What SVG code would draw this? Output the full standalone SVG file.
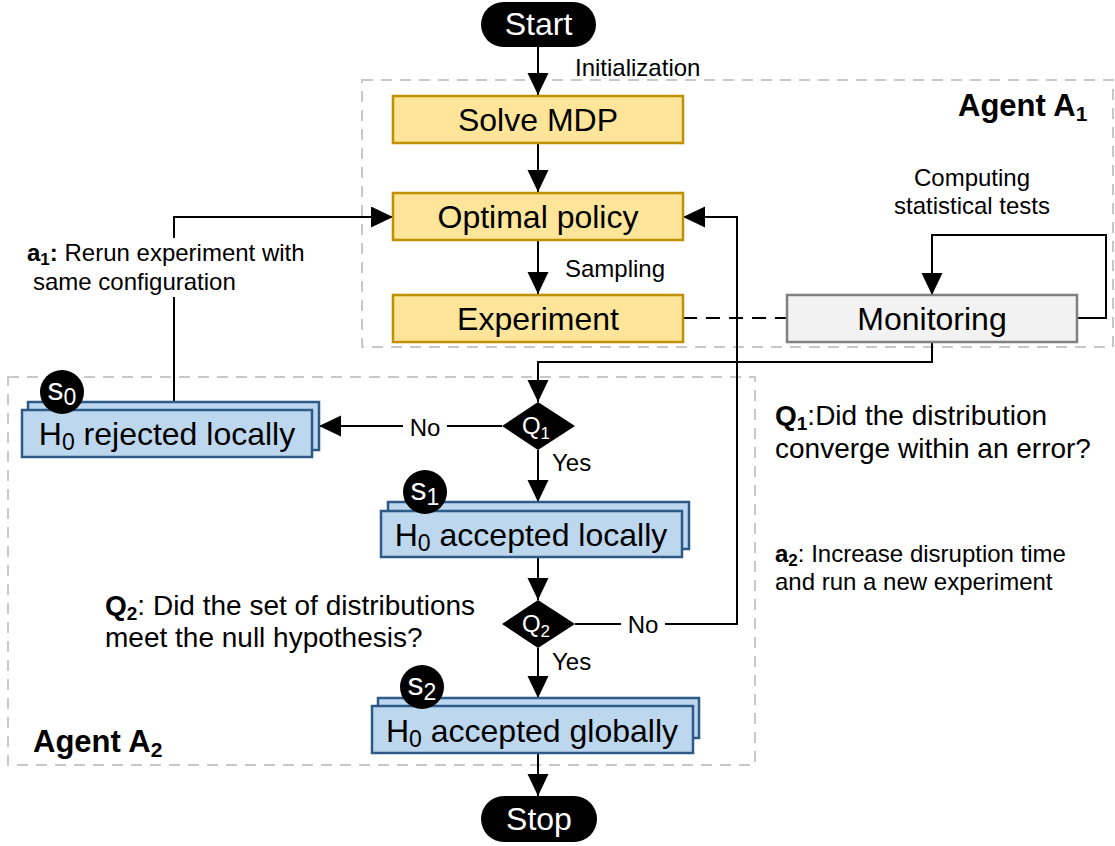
<svg xmlns="http://www.w3.org/2000/svg" width="1115" height="846" viewBox="0 0 1115 846">
  <style>
    text { font-family: "Liberation Sans", Arial, sans-serif; fill: #000; }
    .big { font-size: 32px; }
    .lbl { font-size: 24px; }
    .note { font-size: 24px; }
    .q { font-size: 28px; }
    .agent { font-size: 31px; font-weight: bold; }
    .white { fill: #fff; }
    .mid { text-anchor: middle; }
    .group { fill: none; stroke: #c8c8c8; stroke-width: 2; stroke-dasharray: 11 8; }
    .task { fill: #ffe599; stroke: #bf9000; stroke-width: 2.5; }
    .mon { fill: #f2f2f2; stroke: #808080; stroke-width: 2.5; }
    .state { fill: #bdd7ee; stroke: #2e5a87; stroke-width: 2.5; }
    .term { fill: #000; }
    .edge { fill: none; stroke: #000; stroke-width: 2; }
    .arrow { marker-end: url(#head); }
    .dash { stroke-dasharray: 14 9; }
    .bg { fill: #fff; }
  </style>
  <defs>
    <marker id="head" markerUnits="userSpaceOnUse" markerWidth="22" markerHeight="22" refX="22" refY="10.5" orient="auto">
      <path d="M0,0 L22,10.5 L0,21 Z" fill="#000"/>
    </marker>
  </defs>

  <!-- agent regions -->
  <g id="agent-a1">
    <rect class="group" x="362" y="80" width="751" height="267"/>
    <text class="agent" x="958" y="116">Agent A<tspan font-size="21" dy="5">1</tspan></text>
  </g>
  <g id="agent-a2">
    <rect class="group" x="8" y="377" width="747" height="388"/>
    <text class="agent" x="33" y="752">Agent A<tspan font-size="21" dy="5">2</tspan></text>
  </g>

  <!-- connectors -->
  <g id="connectors">
    <path class="edge arrow" d="M538,47 V95"/>
    <path class="edge arrow" d="M538,143 V192"/>
    <path class="edge arrow" d="M538,240 V294"/>
    <path class="edge dash" d="M683,318 H787"/>
    <path class="edge arrow" d="M1077,318 H1106 V235 H932 V295"/>
    <path class="edge arrow" d="M932,342 V362 H538 V402"/>
    <path class="edge arrow" d="M502,426 H319"/>
    <path class="edge arrow" d="M538,450 V502"/>
    <path class="edge arrow" d="M538,557 V600"/>
    <path class="edge arrow" d="M538,648 V698"/>
    <path class="edge arrow" d="M538,753 V796"/>
    <path class="edge arrow" d="M575,624 H737 V217 H683"/>
    <path class="edge arrow" d="M174,402 V217 H393"/>

    <text class="lbl" x="575" y="76">Initialization</text>
    <text class="lbl" x="565" y="277">Sampling</text>
    <text class="lbl mid" x="972" y="186">Computing</text>
    <text class="lbl mid" x="972" y="214">statistical tests</text>

    <rect class="bg" x="403" y="414" width="44" height="26"/>
    <text class="lbl mid" x="425" y="436">No</text>
    <rect class="bg" x="621" y="611" width="44" height="26"/>
    <text class="lbl mid" x="643" y="633">No</text>
    <text class="lbl" x="552" y="471">Yes</text>
    <text class="lbl" x="552" y="670">Yes</text>

    <rect class="bg" x="24" y="238" width="290" height="59"/>
    <text class="note" x="27" y="261"><tspan font-weight="bold">a<tspan font-size="17" dy="4">1</tspan><tspan dy="-4">:</tspan></tspan> Rerun experiment with</text>
    <text class="note" x="33" y="290">same configuration</text>
  </g>

  <!-- questions and actions -->
  <g id="q1-text">
    <text class="q" x="775" y="425"><tspan font-weight="bold">Q<tspan font-size="19" dy="5">1</tspan></tspan><tspan dy="-5">:Did the distribution</tspan></text>
    <text class="q" x="775" y="458">converge within an error?</text>
  </g>
  <g id="a2-text">
    <text class="note" x="775" y="562"><tspan font-weight="bold">a<tspan font-size="17" dy="4">2</tspan></tspan><tspan dy="-4">: Increase disruption time</tspan></text>
    <text class="note" x="775" y="590">and run a new experiment</text>
  </g>
  <g id="q2-text">
    <text class="q" x="105" y="615"><tspan font-weight="bold">Q<tspan font-size="19" dy="5">2</tspan></tspan><tspan dy="-5">: Did the set of distributions</tspan></text>
    <text class="q" x="105" y="647">meet the null hypothesis?</text>
  </g>

  <!-- terminals -->
  <g id="start">
    <rect class="term" x="481" y="2" width="115" height="45" rx="22.5"/>
    <text class="big white mid" x="538.5" y="35">Start</text>
  </g>
  <g id="stop">
    <rect class="term" x="481" y="796" width="116" height="46" rx="23"/>
    <text class="big white mid" x="539" y="830">Stop</text>
  </g>

  <!-- agent A1 tasks -->
  <g id="solve-mdp">
    <rect class="task" x="393" y="96" width="290" height="47"/>
    <text class="big mid" x="538" y="131">Solve MDP</text>
  </g>
  <g id="optimal-policy">
    <rect class="task" x="393" y="193" width="290" height="47"/>
    <text class="big mid" x="538" y="228">Optimal policy</text>
  </g>
  <g id="experiment">
    <rect class="task" x="393" y="295" width="290" height="47"/>
    <text class="big mid" x="538" y="330">Experiment</text>
  </g>
  <g id="monitoring">
    <rect class="mon" x="787" y="295" width="290" height="47"/>
    <text class="big mid" x="932" y="330">Monitoring</text>
  </g>

  <!-- decisions -->
  <g id="q1">
    <path class="term" d="M538,402 L575,426 L538,450 L502,426 Z"/>
    <text class="lbl white mid" x="536" y="434">Q<tspan font-size="17" dy="5">1</tspan></text>
  </g>
  <g id="q2">
    <path class="term" d="M538,600 L575,624 L538,648 L502,624 Z"/>
    <text class="lbl white mid" x="536" y="632">Q<tspan font-size="17" dy="5">2</tspan></text>
  </g>

  <!-- agent A2 states -->
  <g id="rejected-locally">
    <rect class="state" x="28" y="402" width="291" height="48"/>
    <rect class="state" x="22" y="410" width="290" height="47"/>
    <text class="big mid" x="167" y="445">H<tspan font-size="23" dy="5">0</tspan><tspan dy="-5"> rejected locally</tspan></text>
    <circle cx="62" cy="392" r="22" fill="#000"/>
    <text class="big white mid" x="62" y="400">s<tspan font-size="23" dy="5">0</tspan></text>
  </g>
  <g id="accepted-locally">
    <rect class="state" x="388" y="502" width="301" height="47"/>
    <rect class="state" x="381" y="511" width="301" height="46"/>
    <text class="big mid" x="531" y="546">H<tspan font-size="23" dy="5">0</tspan><tspan dy="-5"> accepted locally</tspan></text>
    <circle cx="425" cy="492" r="22" fill="#000"/>
    <text class="big white mid" x="425" y="500">s<tspan font-size="23" dy="5">1</tspan></text>
  </g>
  <g id="accepted-globally">
    <rect class="state" x="378" y="698" width="321" height="40"/>
    <rect class="state" x="372" y="706" width="321" height="47"/>
    <text class="big mid" x="532" y="742">H<tspan font-size="23" dy="5">0</tspan><tspan dy="-5"> accepted globally</tspan></text>
    <circle cx="422" cy="687" r="22" fill="#000"/>
    <text class="big white mid" x="422" y="695">s<tspan font-size="23" dy="5">2</tspan></text>
  </g>
</svg>
